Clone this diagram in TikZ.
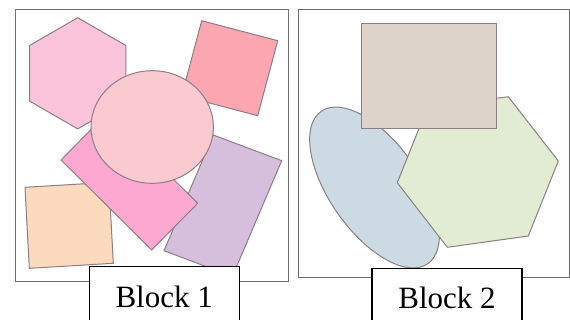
\documentclass[tikz,border=0pt]{standalone}
\usepackage{fontspec}
\setmainfont{Liberation Serif}
\usepackage{tikz}
\usetikzlibrary{positioning}

\definecolor{hexpink}{RGB}{251,196,218}
\definecolor{squarered}{RGB}{252,166,178}
\definecolor{circlepink}{RGB}{250,202,208}
\definecolor{rectpink}{RGB}{252,168,208}
\definecolor{rectlilac}{RGB}{214,191,221}
\definecolor{squarepeach}{RGB}{252,218,190}
\definecolor{rectbeige}{RGB}{222,211,202}
\definecolor{ovalblue}{RGB}{204,219,227}
\definecolor{hexgreen}{RGB}{225,236,210}
\definecolor{edgegray}{RGB}{140,126,132}
\definecolor{framegray}{RGB}{110,110,110}

\tikzset{
  shapeline/.style={draw=edgegray, line width=0.75pt, line join=round},
  blockframe/.style={draw=framegray, line width=0.75pt},
  blocklabel/.style={draw=black, fill=white, line width=1pt, minimum width=112.5pt,
    minimum height=45pt, inner sep=0pt, font=\fontsize{23.25}{28}\selectfont}
}

\begin{document}
\begin{tikzpicture}[x=0.75pt,y=0.75pt,yscale=-1,xscale=1]
\path[use as bounding box] (0,0) rectangle (570,320);

%Shape: Frame [Block 1]
\draw[blockframe] (15,9.3) rectangle (288.3,281);
%Shape: Hexagon
\draw[shapeline, fill=hexpink] (77.7,17.7) -- (125.8,45.5) -- (125.8,101.1) -- (77.7,128.9) -- (29.6,101.1) -- (29.6,45.5) -- cycle ;
%Shape: Square
\draw[shapeline, fill=squarered] (201.7,20.7) -- (277.7,40.7) -- (257.7,115.7) -- (181.7,95.7) -- cycle ;
%Shape: Square
\draw[shapeline, fill=squarepeach] (25,187.3) -- (109,182.3) -- (113.3,263.3) -- (29.3,268.3) -- cycle ;
%Shape: Rectangle
\draw[shapeline, fill=rectlilac] (213.3,135) -- (281.7,160.7) -- (232.4,276.4) -- (164,250.7) -- cycle ;
%Shape: Rectangle
\draw[shapeline, fill=rectpink] (61,160) -- (107,113.3) -- (197.7,203.3) -- (151.7,250) -- cycle ;
%Shape: Circle
\draw[shapeline, fill=circlepink] (152.2,127) ellipse (61.2 and 56.3);

%Shape: Frame [Block 2]
\draw[blockframe] (298.3,9.3) rectangle (569.3,277.7);
%Shape: Ellipse
\draw[shapeline, fill=ovalblue, rotate around={55:(374.5,187.5)}] (374.5,187.5) ellipse (93 and 45);
%Shape: Hexagon
\draw[shapeline, fill=hexgreen] (508.3,96.7) -- (558.3,161) -- (528.3,236) -- (447.3,247.3) -- (397.3,182.7) -- (427.3,107.6) -- cycle ;
%Shape: Rectangle
\draw[shapeline, fill=rectbeige] (361,23.3) rectangle (496.7,129);

% Text Node
\node[blocklabel, anchor=north] (labelA) at (164.2,266) {Block 1};
% Text Node
\node[blocklabel, anchor=north] (labelB) at (447,267.7) {Block 2};
\end{tikzpicture}
\end{document}
